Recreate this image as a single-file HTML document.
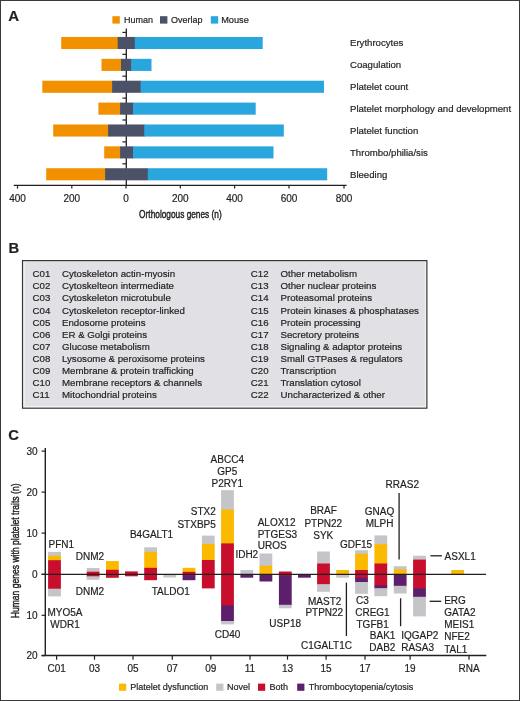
<!DOCTYPE html>
<html><head><meta charset="utf-8"><style>
html,body{margin:0;padding:0;background:#fff;width:520px;height:701px;overflow:hidden}
svg{display:block;font-family:"Liberation Sans",sans-serif;fill:#231F20;will-change:transform}
text{fill:#231F20;stroke:#231F20;stroke-width:0.2px}
</style></head><body>
<svg width="520" height="701" viewBox="0 0 520 701">
<rect x="0.5" y="0.5" width="519" height="700" fill="none" stroke="#3a3a3a" stroke-width="1"/>
<text x="8.3" y="20.8" font-size="15" font-weight="bold">A</text>
<rect x="112.40" y="16.20" width="7.40" height="7.40" fill="#F29100"/>
<text x="124" y="22.8" font-size="9.0">Human</text>
<rect x="160.00" y="16.20" width="7.40" height="7.40" fill="#4B5267"/>
<text x="171" y="22.8" font-size="9.0">Overlap</text>
<rect x="210.80" y="16.20" width="7.40" height="7.40" fill="#2AA6DE"/>
<text x="221.2" y="22.8" font-size="9.2">Mouse</text>
<line x1="126.3" y1="28.5" x2="126.3" y2="185" stroke="#231F20" stroke-width="1.3"/>
<rect x="61.20" y="36.95" width="57.10" height="12.10" fill="#F29100"/>
<rect x="117.70" y="36.95" width="17.70" height="12.10" fill="#4B5267"/>
<rect x="134.80" y="36.95" width="127.90" height="12.10" fill="#2AA6DE"/>
<text x="350" y="46.45" font-size="9.6">Erythrocytes</text>
<rect x="101.50" y="58.83" width="20.10" height="12.10" fill="#F29100"/>
<rect x="121.00" y="58.83" width="10.80" height="12.10" fill="#4B5267"/>
<rect x="131.20" y="58.83" width="20.30" height="12.10" fill="#2AA6DE"/>
<text x="350" y="68.33" font-size="9.6">Coagulation</text>
<rect x="42.30" y="80.71" width="70.40" height="12.10" fill="#F29100"/>
<rect x="112.10" y="80.71" width="29.10" height="12.10" fill="#4B5267"/>
<rect x="140.60" y="80.71" width="183.40" height="12.10" fill="#2AA6DE"/>
<text x="350" y="90.21000000000001" font-size="9.6">Platelet count</text>
<rect x="98.40" y="102.59" width="22.30" height="12.10" fill="#F29100"/>
<rect x="120.10" y="102.59" width="13.50" height="12.10" fill="#4B5267"/>
<rect x="133.00" y="102.59" width="122.70" height="12.10" fill="#2AA6DE"/>
<text x="350" y="112.09" font-size="9.6">Platelet morphology and development</text>
<rect x="53.20" y="124.47" width="55.50" height="12.10" fill="#F29100"/>
<rect x="108.10" y="124.47" width="36.80" height="12.10" fill="#4B5267"/>
<rect x="144.30" y="124.47" width="139.50" height="12.10" fill="#2AA6DE"/>
<text x="350" y="133.97" font-size="9.6">Platelet function</text>
<rect x="104.20" y="146.35" width="16.50" height="12.10" fill="#F29100"/>
<rect x="120.10" y="146.35" width="13.50" height="12.10" fill="#4B5267"/>
<rect x="133.00" y="146.35" width="140.50" height="12.10" fill="#2AA6DE"/>
<text x="350" y="155.85" font-size="9.6">Thrombo/philia/sis</text>
<rect x="46.20" y="168.23" width="59.50" height="12.10" fill="#F29100"/>
<rect x="105.10" y="168.23" width="43.30" height="12.10" fill="#4B5267"/>
<rect x="147.80" y="168.23" width="179.40" height="12.10" fill="#2AA6DE"/>
<text x="350" y="177.73000000000002" font-size="9.6">Bleeding</text>
<line x1="122.4" y1="32.4" x2="126.3" y2="32.4" stroke="#231F20" stroke-width="1.2"/>
<line x1="122.4" y1="54.3" x2="126.3" y2="54.3" stroke="#231F20" stroke-width="1.2"/>
<line x1="122.4" y1="76.19999999999999" x2="126.3" y2="76.19999999999999" stroke="#231F20" stroke-width="1.2"/>
<line x1="122.4" y1="98.1" x2="126.3" y2="98.1" stroke="#231F20" stroke-width="1.2"/>
<line x1="122.4" y1="120.0" x2="126.3" y2="120.0" stroke="#231F20" stroke-width="1.2"/>
<line x1="122.4" y1="141.9" x2="126.3" y2="141.9" stroke="#231F20" stroke-width="1.2"/>
<line x1="122.4" y1="163.79999999999998" x2="126.3" y2="163.79999999999998" stroke="#231F20" stroke-width="1.2"/>
<line x1="13.8" y1="185.3" x2="346.6" y2="185.3" stroke="#231F20" stroke-width="1.35"/>
<line x1="17.5" y1="185" x2="17.5" y2="188.6" stroke="#231F20" stroke-width="1.2"/>
<text x="17.5" y="202.1" font-size="10" text-anchor="middle">400</text>
<line x1="71.8" y1="185" x2="71.8" y2="188.6" stroke="#231F20" stroke-width="1.2"/>
<text x="71.8" y="202.1" font-size="10" text-anchor="middle">200</text>
<line x1="126" y1="185" x2="126" y2="188.6" stroke="#231F20" stroke-width="1.2"/>
<text x="126" y="202.1" font-size="10" text-anchor="middle">0</text>
<line x1="180.3" y1="185" x2="180.3" y2="188.6" stroke="#231F20" stroke-width="1.2"/>
<text x="180.3" y="202.1" font-size="10" text-anchor="middle">200</text>
<line x1="234.6" y1="185" x2="234.6" y2="188.6" stroke="#231F20" stroke-width="1.2"/>
<text x="234.6" y="202.1" font-size="10" text-anchor="middle">400</text>
<line x1="289" y1="185" x2="289" y2="188.6" stroke="#231F20" stroke-width="1.2"/>
<text x="289" y="202.1" font-size="10" text-anchor="middle">600</text>
<line x1="344" y1="185" x2="344" y2="188.6" stroke="#231F20" stroke-width="1.2"/>
<text x="344" y="202.1" font-size="10" text-anchor="middle">800</text>
<text x="0" y="0" font-size="11.3" text-anchor="middle" style="stroke-width:0.45px" transform="translate(180.4,218.2) scale(0.735,1)">Orthologous genes (n)</text>
<text x="8.6" y="252.6" font-size="14.8" font-weight="bold">B</text>
<rect x="22.5" y="260.6" width="404.4" height="147.6" fill="#E1E0E4" stroke="#333" stroke-width="1.15"/>
<path d="M24.2 262.2 V406.6 H425.3 V262.2" fill="none" stroke="#F6F6F8" stroke-width="0.9"/>
<text x="32.6" y="277.3" font-size="9.7">C01</text>
<text x="62" y="277.3" font-size="9.7">Cytoskeleton actin-myosin</text>
<text x="250.8" y="277.3" font-size="9.7">C12</text>
<text x="280.5" y="277.3" font-size="9.7">Other metabolism</text>
<text x="32.6" y="289.37" font-size="9.7">C02</text>
<text x="62" y="289.37" font-size="9.7">Cytoskelteon intermediate</text>
<text x="250.8" y="289.37" font-size="9.7">C13</text>
<text x="280.5" y="289.37" font-size="9.7">Other nuclear proteins</text>
<text x="32.6" y="301.44" font-size="9.7">C03</text>
<text x="62" y="301.44" font-size="9.7">Cytoskeleton microtubule</text>
<text x="250.8" y="301.44" font-size="9.7">C14</text>
<text x="280.5" y="301.44" font-size="9.7">Proteasomal proteins</text>
<text x="32.6" y="313.51" font-size="9.7">C04</text>
<text x="62" y="313.51" font-size="9.7">Cytoskeleton receptor-linked</text>
<text x="250.8" y="313.51" font-size="9.7">C15</text>
<text x="280.5" y="313.51" font-size="9.7">Protein kinases &amp; phosphatases</text>
<text x="32.6" y="325.58000000000004" font-size="9.7">C05</text>
<text x="62" y="325.58000000000004" font-size="9.7">Endosome proteins</text>
<text x="250.8" y="325.58000000000004" font-size="9.7">C16</text>
<text x="280.5" y="325.58000000000004" font-size="9.7">Protein processing</text>
<text x="32.6" y="337.65000000000003" font-size="9.7">C06</text>
<text x="62" y="337.65000000000003" font-size="9.7">ER &amp; Golgi proteins</text>
<text x="250.8" y="337.65000000000003" font-size="9.7">C17</text>
<text x="280.5" y="337.65000000000003" font-size="9.7">Secretory proteins</text>
<text x="32.6" y="349.72" font-size="9.7">C07</text>
<text x="62" y="349.72" font-size="9.7">Glucose metabolism</text>
<text x="250.8" y="349.72" font-size="9.7">C18</text>
<text x="280.5" y="349.72" font-size="9.7">Signaling &amp; adaptor proteins</text>
<text x="32.6" y="361.79" font-size="9.7">C08</text>
<text x="62" y="361.79" font-size="9.7">Lysosome &amp; peroxisome proteins</text>
<text x="250.8" y="361.79" font-size="9.7">C19</text>
<text x="280.5" y="361.79" font-size="9.7">Small GTPases &amp; regulators</text>
<text x="32.6" y="373.86" font-size="9.7">C09</text>
<text x="62" y="373.86" font-size="9.7">Membrane &amp; protein trafficking</text>
<text x="250.8" y="373.86" font-size="9.7">C20</text>
<text x="280.5" y="373.86" font-size="9.7">Transcription</text>
<text x="32.6" y="385.93" font-size="9.7">C10</text>
<text x="62" y="385.93" font-size="9.7">Membrane receptors &amp; channels</text>
<text x="250.8" y="385.93" font-size="9.7">C21</text>
<text x="280.5" y="385.93" font-size="9.7">Translation cytosol</text>
<text x="32.6" y="398.0" font-size="9.7">C11</text>
<text x="62" y="398.0" font-size="9.7">Mitochondrial proteins</text>
<text x="250.8" y="398.0" font-size="9.7">C22</text>
<text x="280.5" y="398.0" font-size="9.7">Uncharacterized &amp; other</text>
<text x="8.2" y="439.7" font-size="14.8" font-weight="bold">C</text>
<rect x="48.10" y="551.90" width="12.80" height="4.40" fill="#C5C4C9"/>
<rect x="48.10" y="555.70" width="12.80" height="5.10" fill="#FBB900"/>
<rect x="48.10" y="560.20" width="12.80" height="29.10" fill="#C90D2D"/>
<rect x="48.10" y="588.70" width="12.80" height="7.70" fill="#C5C4C9"/>
<rect x="86.70" y="568.00" width="12.80" height="4.30" fill="#C5C4C9"/>
<rect x="86.70" y="571.70" width="12.80" height="5.20" fill="#C90D2D"/>
<rect x="86.70" y="576.30" width="12.80" height="3.50" fill="#C5C4C9"/>
<rect x="106.00" y="561.10" width="12.80" height="9.30" fill="#FBB900"/>
<rect x="106.00" y="569.80" width="12.80" height="8.00" fill="#C90D2D"/>
<rect x="125.00" y="571.40" width="12.80" height="4.90" fill="#C90D2D"/>
<rect x="144.20" y="547.30" width="12.80" height="5.20" fill="#C5C4C9"/>
<rect x="144.20" y="551.90" width="12.80" height="16.50" fill="#FBB900"/>
<rect x="144.20" y="567.80" width="12.80" height="12.40" fill="#C90D2D"/>
<rect x="163.40" y="574.60" width="12.80" height="2.90" fill="#C5C4C9"/>
<rect x="182.60" y="567.80" width="12.80" height="4.60" fill="#FBB900"/>
<rect x="182.60" y="571.80" width="12.80" height="4.30" fill="#C90D2D"/>
<rect x="182.60" y="575.50" width="12.80" height="4.70" fill="#5C1F6B"/>
<rect x="201.90" y="535.60" width="12.80" height="9.00" fill="#C5C4C9"/>
<rect x="201.90" y="544.00" width="12.80" height="16.60" fill="#FBB900"/>
<rect x="201.90" y="560.00" width="12.80" height="28.40" fill="#C90D2D"/>
<rect x="221.10" y="490.20" width="12.80" height="20.00" fill="#C5C4C9"/>
<rect x="221.10" y="509.60" width="12.80" height="34.40" fill="#FBB900"/>
<rect x="221.10" y="543.40" width="12.80" height="62.60" fill="#C90D2D"/>
<rect x="221.10" y="605.40" width="12.80" height="16.20" fill="#5C1F6B"/>
<rect x="221.10" y="621.00" width="12.80" height="3.40" fill="#C5C4C9"/>
<rect x="240.40" y="570.00" width="12.80" height="5.00" fill="#C5C4C9"/>
<rect x="240.40" y="574.40" width="12.80" height="3.30" fill="#5C1F6B"/>
<rect x="259.50" y="553.50" width="12.80" height="12.90" fill="#C5C4C9"/>
<rect x="259.50" y="565.80" width="12.80" height="9.20" fill="#FBB900"/>
<rect x="259.50" y="574.40" width="12.80" height="7.10" fill="#5C1F6B"/>
<rect x="278.90" y="571.50" width="12.80" height="4.60" fill="#C90D2D"/>
<rect x="278.90" y="575.50" width="12.80" height="29.90" fill="#5C1F6B"/>
<rect x="278.90" y="604.80" width="12.80" height="3.50" fill="#C5C4C9"/>
<rect x="298.00" y="574.40" width="12.80" height="3.30" fill="#5C1F6B"/>
<rect x="317.10" y="551.50" width="12.80" height="12.60" fill="#C5C4C9"/>
<rect x="317.10" y="563.50" width="12.80" height="21.30" fill="#C90D2D"/>
<rect x="317.10" y="584.20" width="12.80" height="7.60" fill="#C5C4C9"/>
<rect x="336.20" y="570.00" width="12.80" height="5.00" fill="#FBB900"/>
<rect x="336.20" y="574.40" width="12.80" height="3.30" fill="#C5C4C9"/>
<rect x="355.10" y="550.30" width="12.80" height="4.10" fill="#C5C4C9"/>
<rect x="355.10" y="553.80" width="12.80" height="16.80" fill="#FBB900"/>
<rect x="355.10" y="570.00" width="12.80" height="8.30" fill="#C90D2D"/>
<rect x="355.10" y="577.70" width="12.80" height="4.90" fill="#5C1F6B"/>
<rect x="355.10" y="582.00" width="12.80" height="11.80" fill="#C5C4C9"/>
<rect x="374.40" y="535.40" width="12.80" height="9.40" fill="#C5C4C9"/>
<rect x="374.40" y="544.20" width="12.80" height="19.90" fill="#FBB900"/>
<rect x="374.40" y="563.50" width="12.80" height="22.50" fill="#C90D2D"/>
<rect x="374.40" y="585.40" width="12.80" height="3.40" fill="#5C1F6B"/>
<rect x="374.40" y="588.20" width="12.80" height="8.00" fill="#C5C4C9"/>
<rect x="393.80" y="566.20" width="12.80" height="3.80" fill="#C5C4C9"/>
<rect x="393.80" y="569.40" width="12.80" height="5.40" fill="#FBB900"/>
<rect x="393.80" y="574.20" width="12.80" height="12.20" fill="#5C1F6B"/>
<rect x="393.80" y="585.80" width="12.80" height="7.70" fill="#C5C4C9"/>
<rect x="413.10" y="555.70" width="12.80" height="4.50" fill="#C5C4C9"/>
<rect x="413.10" y="559.60" width="12.80" height="29.20" fill="#C90D2D"/>
<rect x="413.10" y="588.20" width="12.80" height="9.20" fill="#5C1F6B"/>
<rect x="413.10" y="596.80" width="12.80" height="19.60" fill="#C5C4C9"/>
<rect x="451.20" y="570.00" width="12.80" height="4.40" fill="#FBB900"/>
<line x1="45.3" y1="448" x2="45.3" y2="656" stroke="#231F20" stroke-width="1.4"/>
<line x1="41.6" y1="451.1" x2="45.3" y2="451.1" stroke="#231F20" stroke-width="1.2"/>
<text x="37.6" y="454.5" font-size="10" text-anchor="end">30</text>
<line x1="41.6" y1="492.1" x2="45.3" y2="492.1" stroke="#231F20" stroke-width="1.2"/>
<text x="37.6" y="495.5" font-size="10" text-anchor="end">20</text>
<line x1="41.6" y1="533.1" x2="45.3" y2="533.1" stroke="#231F20" stroke-width="1.2"/>
<text x="37.6" y="536.5" font-size="10" text-anchor="end">10</text>
<line x1="41.6" y1="574.3" x2="45.3" y2="574.3" stroke="#231F20" stroke-width="1.2"/>
<text x="37.6" y="577.6999999999999" font-size="10" text-anchor="end">0</text>
<line x1="41.6" y1="615.3" x2="45.3" y2="615.3" stroke="#231F20" stroke-width="1.2"/>
<text x="37.6" y="618.6999999999999" font-size="10" text-anchor="end">10</text>
<line x1="41.6" y1="655.6" x2="45.3" y2="655.6" stroke="#231F20" stroke-width="1.2"/>
<text x="37.6" y="659.0" font-size="10" text-anchor="end">20</text>
<line x1="41.6" y1="574.4" x2="486" y2="574.4" stroke="#231F20" stroke-width="1.25"/>
<line x1="41.6" y1="655.5" x2="486.3" y2="655.5" stroke="#231F20" stroke-width="1.4"/>
<line x1="56.6" y1="655.6" x2="56.6" y2="659.7" stroke="#231F20" stroke-width="1.2"/>
<text x="56.6" y="672.2" font-size="10" text-anchor="middle">C01</text>
<line x1="94.5" y1="655.6" x2="94.5" y2="659.7" stroke="#231F20" stroke-width="1.2"/>
<text x="94.5" y="672.2" font-size="10" text-anchor="middle">03</text>
<line x1="133" y1="655.6" x2="133" y2="659.7" stroke="#231F20" stroke-width="1.2"/>
<text x="133" y="672.2" font-size="10" text-anchor="middle">05</text>
<line x1="172.3" y1="655.6" x2="172.3" y2="659.7" stroke="#231F20" stroke-width="1.2"/>
<text x="172.3" y="672.2" font-size="10" text-anchor="middle">07</text>
<line x1="210.8" y1="655.6" x2="210.8" y2="659.7" stroke="#231F20" stroke-width="1.2"/>
<text x="210.8" y="672.2" font-size="10" text-anchor="middle">09</text>
<line x1="250" y1="655.6" x2="250" y2="659.7" stroke="#231F20" stroke-width="1.2"/>
<text x="250" y="672.2" font-size="10" text-anchor="middle">11</text>
<line x1="287.5" y1="655.6" x2="287.5" y2="659.7" stroke="#231F20" stroke-width="1.2"/>
<text x="287.5" y="672.2" font-size="10" text-anchor="middle">13</text>
<line x1="326.1" y1="655.6" x2="326.1" y2="659.7" stroke="#231F20" stroke-width="1.2"/>
<text x="326.1" y="672.2" font-size="10" text-anchor="middle">15</text>
<line x1="365" y1="655.6" x2="365" y2="659.7" stroke="#231F20" stroke-width="1.2"/>
<text x="365" y="672.2" font-size="10" text-anchor="middle">17</text>
<line x1="410.1" y1="655.6" x2="410.1" y2="659.7" stroke="#231F20" stroke-width="1.2"/>
<text x="410.1" y="672.2" font-size="10" text-anchor="middle">19</text>
<line x1="469" y1="655.6" x2="469" y2="659.7" stroke="#231F20" stroke-width="1.2"/>
<text x="469" y="672.2" font-size="10" text-anchor="middle">RNA</text>
<text x="0" y="0" font-size="11.6" text-anchor="middle" style="stroke-width:0.45px" transform="translate(18.6,550.9) rotate(-90) scale(0.74,1)">Human genes with platelet traits (n)</text>
<text x="48.5" y="547.9" font-size="10">PFN1</text>
<text x="75.7" y="559.8" font-size="10">DNM2</text>
<text x="75.7" y="594.9" font-size="10">DNM2</text>
<text x="65" y="616.0" font-size="10" text-anchor="middle">MYO5A</text>
<text x="65" y="627.5" font-size="10" text-anchor="middle">WDR1</text>
<text x="151.5" y="537.9" font-size="10" text-anchor="middle">B4GALT1</text>
<text x="170.8" y="594.8" font-size="10" text-anchor="middle">TALDO1</text>
<text x="215.8" y="515.2" font-size="10" text-anchor="end">STX2</text>
<text x="215.8" y="527.5" font-size="10" text-anchor="end">STXBP5</text>
<text x="227.3" y="462.5" font-size="10" text-anchor="middle">ABCC4</text>
<text x="227.3" y="474.8" font-size="10" text-anchor="middle">GP5</text>
<text x="227.3" y="487.0" font-size="10" text-anchor="middle">P2RY1</text>
<text x="227.5" y="638.3" font-size="10" text-anchor="middle">CD40</text>
<text x="235.4" y="558.3" font-size="10">IDH2</text>
<text x="257.7" y="525.5" font-size="10">ALOX12</text>
<text x="257.7" y="537.5" font-size="10">PTGES3</text>
<text x="257.7" y="549.1" font-size="10">UROS</text>
<text x="285.2" y="626.9" font-size="10" text-anchor="middle">USP18</text>
<text x="323.5" y="514.4" font-size="10" text-anchor="middle">BRAF</text>
<text x="323.3" y="526.6" font-size="10" text-anchor="middle">PTPN22</text>
<text x="323.3" y="538.6" font-size="10" text-anchor="middle">SYK</text>
<text x="324.7" y="604.5" font-size="10" text-anchor="middle">MAST2</text>
<text x="324.3" y="616.2" font-size="10" text-anchor="middle">PTPN22</text>
<text x="326.5" y="649.0" font-size="10" text-anchor="middle">C1GALT1C</text>
<text x="356" y="548.1" font-size="10" text-anchor="middle">GDF15</text>
<text x="379.5" y="515.2" font-size="10" text-anchor="middle">GNAQ</text>
<text x="379.6" y="527.3" font-size="10" text-anchor="middle">MLPH</text>
<text x="402.3" y="487.8" font-size="10" text-anchor="middle">RRAS2</text>
<text x="356.0" y="604.4" font-size="10">C3</text>
<text x="355.2" y="616.0" font-size="10">CREG1</text>
<text x="356.5" y="627.8" font-size="10">TGFB1</text>
<text x="369.8" y="639.1" font-size="10">BAK1</text>
<text x="369.3" y="650.6" font-size="10">DAB2</text>
<text x="401.2" y="638.6" font-size="10">IQGAP2</text>
<text x="401.2" y="650.6" font-size="10">RASA3</text>
<text x="444.6" y="559.6" font-size="10">ASXL1</text>
<text x="444.2" y="604.3" font-size="10">ERG</text>
<text x="444.2" y="616.4" font-size="10">GATA2</text>
<text x="444.2" y="628.4" font-size="10">MEIS1</text>
<text x="444.2" y="640.4" font-size="10">NFE2</text>
<text x="444.2" y="652.5" font-size="10">TAL1</text>
<line x1="399.1" y1="493.1" x2="399.1" y2="559.5" stroke="#231F20" stroke-width="1.3"/>
<line x1="400.6" y1="598.3" x2="400.6" y2="626.2" stroke="#231F20" stroke-width="1.3"/>
<line x1="346.4" y1="582.6" x2="346.4" y2="636" stroke="#231F20" stroke-width="1.3"/>
<line x1="430.4" y1="555.8" x2="441.9" y2="555.8" stroke="#231F20" stroke-width="1.3"/>
<line x1="429.6" y1="601.3" x2="441.2" y2="601.3" stroke="#231F20" stroke-width="1.3"/>
<rect x="119.00" y="683.60" width="7.20" height="7.20" fill="#FBB900"/>
<text x="130.2" y="690.2" font-size="9.0">Platelet dysfunction</text>
<rect x="216.20" y="683.60" width="7.20" height="7.20" fill="#C5C4C9"/>
<text x="226.9" y="690.2" font-size="9.0">Novel</text>
<rect x="258.00" y="683.60" width="7.20" height="7.20" fill="#C90D2D"/>
<text x="269.5" y="690.2" font-size="9.0">Both</text>
<rect x="297.20" y="683.60" width="7.20" height="7.20" fill="#5C1F6B"/>
<text x="308.7" y="690.2" font-size="9.0">Thrombocytopenia/cytosis</text>
</svg>
</body></html>
